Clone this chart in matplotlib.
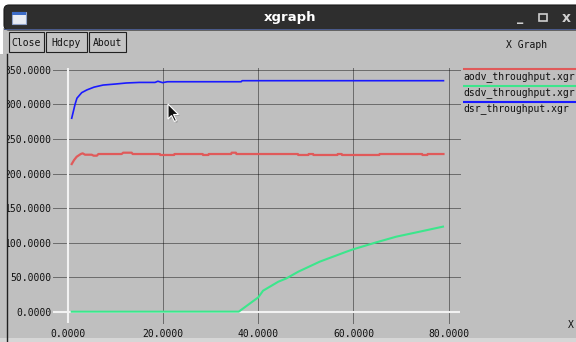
import matplotlib
matplotlib.use("Agg")
import matplotlib.pyplot as plt
from matplotlib.patches import Rectangle, FancyBboxPatch, Polygon
from matplotlib.ticker import FormatStrFormatter

# ---------------- data ----------------
aodv_x = [0.8, 1.3, 1.85, 2.7, 3.1, 3.6, 5.0, 5.4, 6.1, 6.4, 11.3, 11.6, 13.4, 13.6,
          19.3, 19.4, 22.3, 22.4, 28.3, 28.4, 29.5, 29.6, 34.3, 34.4, 35.3, 35.4,
          48.3, 48.4, 50.5, 50.6, 51.5, 51.6, 56.6, 56.7, 57.5, 57.6, 65.4, 65.5,
          74.4, 74.5, 75.5, 75.6, 78.9]
aodv_y = [213.7, 219.5, 224.3, 228.2, 229.2, 227.2, 227.2, 225.8, 225.8, 228.2, 228.2, 230.1, 230.1, 228.2,
          228.2, 226.8, 226.8, 228.2, 228.2, 226.8, 226.8, 228.2, 228.2, 230.1, 230.1, 228.2,
          228.2, 226.8, 226.8, 228.2, 228.2, 226.8, 226.8, 228.2, 228.2, 226.8, 226.8, 228.2,
          228.2, 226.8, 226.8, 228.2, 228.2]

dsdv_x = [0.8, 35.9, 40.0, 41.0, 44.2, 45.9, 48.4, 52.9, 58.5, 59.9, 64.8, 69.0, 73.9, 78.8]
dsdv_y = [0.0, 0.1, 20.8, 30.4, 43.4, 48.2, 57.9, 72.4, 86.8, 90.2, 100.4, 108.6, 115.8, 123.1]

dsr_x = [0.8, 1.5, 1.9, 2.9, 4.0, 5.5, 7.4, 10.0, 12.3, 15.0, 18.3, 18.9, 19.9, 20.9, 36.4, 36.6, 78.9]
dsr_y = [280, 300, 309, 317, 321, 325, 328, 329.5, 331, 331.8, 331.8, 333.5, 331.5, 332.8, 332.8, 334.3, 334.3]

series_names = ["aodv_throughput.xgr", "dsdv_throughput.xgr", "dsr_throughput.xgr"]
series_colors = ["#e05a5a", "#3ce68c", "#1a1aff"]

x_ticks = [0, 20, 40, 60, 80]
y_ticks = [0, 50, 100, 150, 200, 250, 300, 350]

# ---------------- figure ----------------
W, H = 576, 342
fig = plt.figure(figsize=(W / 100, H / 100), dpi=100)
fig.patch.set_facecolor("white")

GRAY = "#bfbfbf"
MONO = "DejaVu Sans Mono"
FS = 7.0

# background axes in pixel coordinates
bg = fig.add_axes([0, 0, 1, 1])
bg.set_xlim(0, W)
bg.set_ylim(H, 0)
bg.axis("off")

# window body
bg.add_patch(Rectangle((3, 28), W, H, facecolor=GRAY, edgecolor="none"))
# title bar
bg.add_patch(FancyBboxPatch((4, 5), W + 10, 25, boxstyle="round,pad=0,rounding_size=5",
                            facecolor="#2e2e2e", edgecolor="#1c1c1c", lw=0.8))
bg.add_patch(Rectangle((4, 29.2), W, 1.0, facecolor="#4a5a8a", edgecolor="none"))
# icon
bg.add_patch(Rectangle((12, 12), 14, 12, facecolor="#e8ecf4", edgecolor="#8fa2c8", lw=0.8))
bg.add_patch(Rectangle((12, 12), 14, 3, facecolor="#3c6cc8", edgecolor="none"))
bg.text(290, 17.5, "xgraph", color="white", fontsize=9.5, fontweight="bold",
        ha="center", va="center", family="DejaVu Sans")
bg.text(520, 17, "_", color="#d0d0d0", fontsize=9, ha="center", va="center", fontweight="bold")
bg.add_patch(Rectangle((539, 14), 8, 7, facecolor="none", edgecolor="#d0d0d0", lw=1.2))
bg.text(566, 18, "x", color="#d0d0d0", fontsize=10, ha="center", va="center", fontweight="bold")

# buttons
for (x0, x1, lab) in [(9, 44, "Close"), (46, 87, "Hdcpy"), (89, 126, "About")]:
    bg.add_patch(Rectangle((x0, 32), x1 - x0, 20, facecolor="#c4c4c4", edgecolor="#202020", lw=0.8))
    bg.text((x0 + x1) / 2, 42.5, lab, fontsize=FS, family=MONO, ha="center", va="center", color="#101010")
bg.text(527, 45, "X Graph", fontsize=FS, family=MONO, ha="center", va="center", color="#101010")
bg.text(571, 325, "X", fontsize=FS, family=MONO, ha="center", va="center", color="#101010")

# legend
leg_line_y = [69, 86, 102]
leg_text_y = [76.5, 92.5, 108.5]
for name, col, ly, ty in zip(series_names, series_colors, leg_line_y, leg_text_y):
    bg.plot([463, W], [ly, ly], color=col, lw=1.5, solid_capstyle="butt")
    bg.text(463, ty, name, fontsize=FS, family=MONO, ha="left", va="center", color="#101010")

# ---------------- data axes ----------------
px0, px1 = 53, 463      # pixel extents (x)
py_top, py_bot = 66, 325
x0pix, xscale = 67.9, 4.76
y0pix, yscale = 311.7, 0.691
xlim = ((px0 - x0pix) / xscale, (px1 - x0pix) / xscale)
ylim = ((y0pix - py_bot) / yscale, (y0pix - py_top) / yscale)

ax = fig.add_axes([px0 / W, 1 - py_bot / H, (px1 - px0) / W, (py_bot - py_top) / H])
ax.set_facecolor("none")
for s in ax.spines.values():
    s.set_visible(False)
ax.set_xlim(*xlim)
ax.set_ylim(*ylim)
ax.set_xticks(x_ticks)
ax.set_yticks(y_ticks)
ax.xaxis.set_major_formatter(FormatStrFormatter("%.4f"))
ax.yaxis.set_major_formatter(FormatStrFormatter("%.4f"))
ax.tick_params(length=0, labelsize=FS, labelcolor="#101010")
ax.tick_params(axis="x", pad=3)
ax.tick_params(axis="y", pad=1)
for t in ax.get_xticklabels() + ax.get_yticklabels():
    t.set_family(MONO)

gx_end = (460 - x0pix) / xscale
vy_lo = (y0pix - 323) / yscale
vy_hi = (y0pix - 68) / yscale
ax.hlines([v for v in y_ticks if v != 0], xlim[0], gx_end, colors="#000000",
          linestyles=(0, (1, 1)), lw=0.72, zorder=1, alpha=0.85)
ax.vlines([v for v in x_ticks if v != 0], vy_lo, vy_hi, colors="#000000",
          linestyles=(0, (1, 1)), lw=0.72, zorder=1, alpha=0.85)
ax.hlines([0], xlim[0], gx_end, colors="#f2f2f2", lw=1.5, zorder=2)
ax.vlines([0], vy_lo, vy_hi, colors="#f2f2f2", lw=1.5, zorder=2)

ax.plot(aodv_x, aodv_y, color=series_colors[0], lw=1.6, zorder=3)
ax.plot(dsdv_x, dsdv_y, color=series_colors[1], lw=1.5, zorder=3)
ax.plot(dsr_x, dsr_y, color=series_colors[2], lw=1.2, zorder=3)

# ---------------- overlay (left border, cursor) ----------------
ov = fig.add_axes([0, 0, 1, 1], zorder=10)
ov.set_xlim(0, W)
ov.set_ylim(H, 0)
ov.axis("off")
ov.patch.set_visible(False)
ov.add_patch(Rectangle((0, 54), 6.5, H, facecolor=GRAY, edgecolor="none"))
ov.plot([7, 7], [54, H], color="#202020", lw=1.0)
ov.add_patch(Rectangle((0, 338), W, 4, facecolor="#d6d6d6", edgecolor="none"))
cur = [(168, 104), (168, 119), (171.5, 115.5), (174.5, 121.5), (176.5, 120.5),
       (173.5, 114.5), (178.5, 114.5)]
shadow = [(p[0] + 1.5, p[1] + 1.5) for p in cur]
ov.add_patch(Polygon(shadow, closed=True, facecolor="#8a8a8a", edgecolor="none", alpha=0.6))
ov.add_patch(Polygon(cur, closed=True, facecolor="#111111", edgecolor="white", lw=0.8))

fig.savefig("out.png", dpi=100, facecolor=fig.get_facecolor())
